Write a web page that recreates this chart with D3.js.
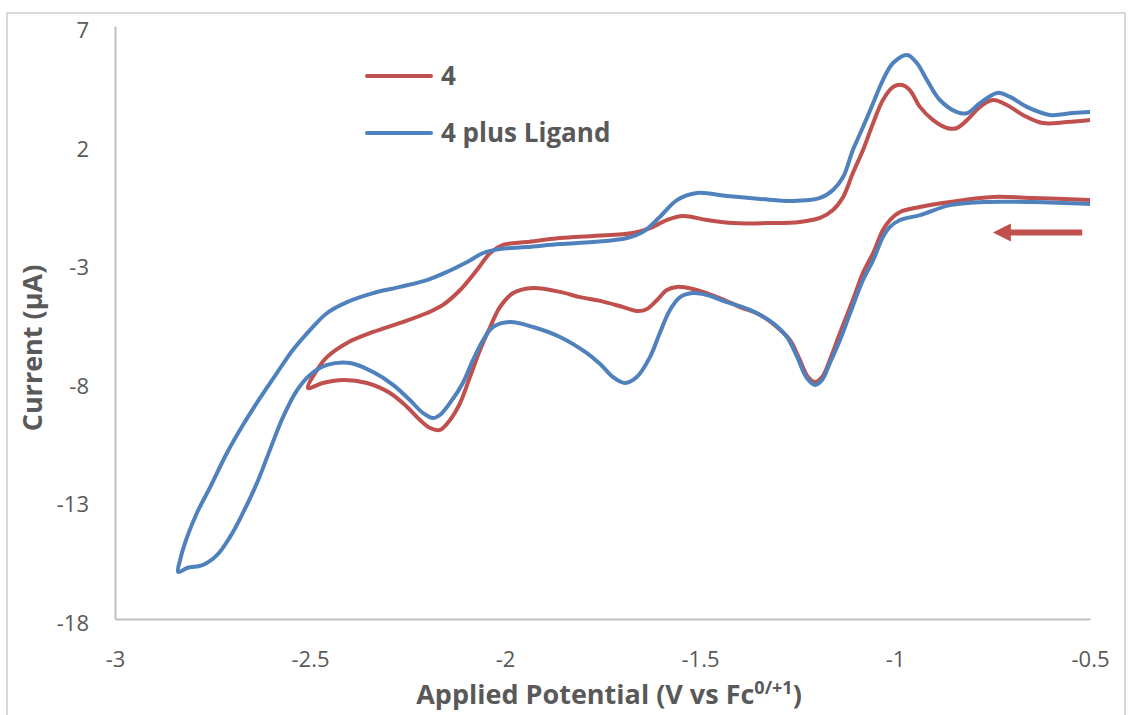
<!DOCTYPE html>
<html>
<head>
<meta charset="utf-8">
<script src="https://cdn.jsdelivr.net/npm/d3@7"></script>
<style>
  html, body { margin: 0; padding: 0; background: #fff; }
  svg { display: block; }
</style>
</head>
<body>
<svg id="cv" width="1128" height="715"></svg>
<script>
// series names
var seriesNames = ["4", "4 plus Ligand"];

// compound 4: scan from -0.5 V down to the vertex and back
var redPotential = [
  -0.5, -0.646, -0.749, -0.859, -0.936, -0.987, -1.013, -1.031, -1.056, -1.082,
  -1.108, -1.141, -1.167, -1.187, -1.205, -1.223, -1.244, -1.269, -1.303, -1.346,
  -1.397, -1.456, -1.518, -1.559, -1.585, -1.610, -1.636, -1.659, -1.697, -1.756,
  -1.808, -1.859, -1.928, -1.979, -2.013, -2.038, -2.064, -2.090, -2.115, -2.141,
  -2.167, -2.192, -2.218, -2.251, -2.295, -2.354, -2.415, -2.467, -2.505,
  -2.482, -2.456, -2.405, -2.338, -2.269, -2.200, -2.159, -2.115, -2.072, -2.038,
  -2.005, -1.944, -1.859, -1.774, -1.672, -1.628, -1.585, -1.544, -1.482, -1.415,
  -1.328, -1.244, -1.192, -1.159, -1.133, -1.108, -1.082, -1.056, -1.031, -1.005,
  -0.982, -0.962, -0.936, -0.903, -0.867, -0.841, -0.815, -0.782, -0.749, -0.713,
  -0.672, -0.621, -0.559, -0.5
];
var redCurrent = [
  -0.34, -0.25, -0.21, -0.42, -0.63, -0.84, -1.18, -1.60, -2.57, -3.41,
  -4.55, -5.94, -7.08, -7.80, -8.01, -7.80, -7.08, -6.24, -5.69, -5.18,
  -4.85, -4.43, -4.09, -4.00, -4.13, -4.55, -4.93, -5.02, -4.85, -4.59,
  -4.43, -4.21, -4.05, -4.26, -4.85, -5.69, -6.66, -7.80, -8.89, -9.61,
  -10.03, -9.95, -9.61, -9.06, -8.47, -8.05, -7.92, -8.05, -8.26,
  -7.50, -6.95, -6.36, -5.90, -5.52, -5.10, -4.76, -4.13, -3.29, -2.57,
  -2.23, -2.11, -1.94, -1.85, -1.73, -1.52, -1.18, -1.01, -1.18, -1.31,
  -1.31, -1.26, -1.09, -0.76, -0.21, 0.80, 1.77, 2.91, 3.88, 4.43,
  4.51, 4.30, 3.59, 3.04, 2.70, 2.70, 3.04, 3.59, 3.88, 3.67,
  3.25, 2.91, 2.95, 3.04
];

// compound 4 plus ligand
var bluePotential = [
  -0.5, -0.646, -0.774, -0.859, -0.936, -0.987, -1.013, -1.031, -1.056, -1.082,
  -1.115, -1.141, -1.167, -1.187, -1.205, -1.226, -1.251, -1.277, -1.313, -1.372,
  -1.431, -1.482, -1.518, -1.551, -1.577, -1.603, -1.628, -1.662, -1.692, -1.723,
  -1.756, -1.790, -1.859, -1.928, -1.987, -2.031, -2.056, -2.082, -2.108, -2.141,
  -2.167, -2.185, -2.210, -2.244, -2.287, -2.338, -2.397, -2.456, -2.500, -2.533,
  -2.569, -2.603, -2.636, -2.672, -2.705, -2.738, -2.774, -2.815, -2.838,
  -2.833, -2.815, -2.790, -2.756, -2.713, -2.672, -2.628, -2.585, -2.544, -2.500,
  -2.456, -2.405, -2.338, -2.269, -2.200, -2.149, -2.097, -2.056, -2.013, -1.944,
  -1.859, -1.774, -1.687, -1.646, -1.603, -1.559, -1.508, -1.431, -1.346, -1.262,
  -1.192, -1.159, -1.133, -1.108, -1.082, -1.056, -1.031, -1.005, -0.969, -0.944,
  -0.918, -0.885, -0.841, -0.815, -0.782, -0.738, -0.705, -0.662, -0.603, -0.544,
  -0.5
];
var blueCurrent = [
  -0.50, -0.42, -0.42, -0.55, -0.97, -1.18, -1.47, -1.90, -2.87, -3.71,
  -5.10, -6.24, -7.21, -7.92, -8.13, -7.84, -6.95, -6.11, -5.52, -4.97,
  -4.64, -4.34, -4.26, -4.43, -4.97, -5.94, -6.95, -7.80, -8.05, -7.80,
  -7.25, -6.79, -6.11, -5.69, -5.48, -5.69, -6.24, -7.08, -8.05, -8.89,
  -9.40, -9.53, -9.32, -8.77, -8.13, -7.59, -7.21, -7.29, -7.71, -8.35,
  -9.48, -10.88, -12.27, -13.53, -14.54, -15.30, -15.72, -15.85, -16.02,
  -15.51, -14.54, -13.53, -12.44, -11.00, -9.82, -8.68, -7.63, -6.66, -5.82,
  -5.10, -4.64, -4.26, -4.00, -3.71, -3.37, -2.95, -2.57, -2.40, -2.32,
  -2.19, -2.11, -1.94, -1.68, -1.05, -0.34, -0.04, -0.17, -0.29, -0.38,
  -0.25, 0.09, 0.63, 1.77, 2.74, 3.75, 4.72, 5.44, 5.78, 5.44,
  4.72, 3.88, 3.37, 3.33, 3.75, 4.18, 4.01, 3.59, 3.25, 3.33,
  3.37
];

// tick labels
var xTicks = [-3, -2.5, -2, -1.5, -1, -0.5];
var yTicks = [7, 2, -3, -8, -13, -18];

// scan direction arrow (V, uA)
var arrowFrom = [-0.52, -1.71];
var arrowTo = [-0.749, -1.71];

(function () {

  function ready(fn) {
    if (document.readyState != 'loading') fn();
    else document.addEventListener('DOMContentLoaded', fn);
  }

  ready(drawChart);

  function drawChart() {
    var svg = d3.select("#cv"),
      margin = {top: 26, right: 38, bottom: 96, left: 115},
      width = 1128 - margin.left - margin.right,
      height = 715 - margin.top - margin.bottom;

    var red = "#C0504D", blue = "#4F81BD", textColor = "#595959";
    var font = "'Open Sans', 'DejaVu Sans', sans-serif";

    // outer chart border
    svg.append("rect")
      .attr("x", 7).attr("y", 13)
      .attr("width", 1118).attr("height", 720)
      .attr("fill", "none")
      .attr("stroke", "#d9d9d9")
      .attr("stroke-width", 2);

    var g = svg.append("g").attr("transform", "translate(" + margin.left + "," + margin.top + ")");

    var x = d3.scaleLinear().domain([-3, -0.5]).range([0, width]);
    var y = d3.scaleLinear().domain([-18, 7]).range([height, 0]);

    var xAxis = g.append("g")
      .attr("transform", "translate(0," + height + ")")
      .call(d3.axisBottom(x)
        .tickValues(xTicks)
        .tickSize(0)
        .tickPadding(32)
        .tickFormat(function(d) { return String(d); }));

    var yAxis = g.append("g")
      .call(d3.axisLeft(y)
        .tickValues(yTicks)
        .tickSize(0)
        .tickPadding(26)
        .tickFormat(function(d) { return String(d); }));

    [xAxis, yAxis].forEach(function(ax) {
      ax.select(".domain").attr("stroke", "#bfbfbf").attr("stroke-width", 2);
      ax.selectAll("text")
        .attr("fill", textColor)
        .style("font-family", font)
        .style("font-size", "22px");
    });
    yAxis.selectAll("text").attr("dy", "0.52em");

    var line = d3.line()
      .x(function(d) { return x(d[0]); })
      .y(function(d) { return y(d[1]); })
      .curve(d3.curveCatmullRom.alpha(0.5));

    var redData = redPotential.map(function(v, i) { return [v, redCurrent[i]]; });
    var blueData = bluePotential.map(function(v, i) { return [v, blueCurrent[i]]; });

    g.append("path")
      .datum(redData)
      .attr("fill", "none")
      .attr("stroke", red)
      .attr("stroke-width", 4)
      .attr("stroke-linejoin", "round")
      .attr("d", line);

    g.append("path")
      .datum(blueData)
      .attr("fill", "none")
      .attr("stroke", blue)
      .attr("stroke-width", 4)
      .attr("stroke-linejoin", "round")
      .attr("d", line);

    // scan direction arrow
    var ax0 = x(arrowFrom[0]), ax1 = x(arrowTo[0]), ay = y(arrowFrom[1]);
    g.append("line")
      .attr("x1", ax0).attr("x2", ax1 + 16)
      .attr("y1", ay).attr("y2", ay)
      .attr("stroke", red)
      .attr("stroke-width", 6);
    g.append("path")
      .attr("d", "M" + ax1 + "," + ay + "L" + (ax1 + 18) + "," + (ay - 9) + "L" + (ax1 + 18) + "," + (ay + 9) + "Z")
      .attr("fill", red);

    // legend
    var legend = svg.append("g");
    [red, blue].forEach(function(c, i) {
      var ly = 76 + i * 57;
      legend.append("line")
        .attr("x1", 367).attr("x2", 431)
        .attr("y1", ly).attr("y2", ly)
        .attr("stroke", c)
        .attr("stroke-width", 4)
        .attr("stroke-linecap", "round");
      legend.append("text")
        .attr("x", 441).attr("y", ly + 9)
        .attr("fill", textColor)
        .style("font-family", font)
        .style("font-weight", "bold")
        .style("font-size", "26px")
        .text(seriesNames[i]);
    });

    // axis titles
    svg.append("text")
      .attr("transform", "translate(42,348) rotate(-90)")
      .attr("text-anchor", "middle")
      .attr("fill", textColor)
      .style("font-family", font)
      .style("font-weight", "bold")
      .style("font-size", "27px")
      .text("Current (μA)");

    var xt = svg.append("text")
      .attr("x", 609).attr("y", 704)
      .attr("text-anchor", "middle")
      .attr("fill", textColor)
      .style("font-family", font)
      .style("font-weight", "bold")
      .style("font-size", "27px");
    xt.append("tspan").text("Applied Potential (V vs Fc");
    xt.append("tspan").attr("dy", -10).style("font-size", "18px").text("0/+1");
    xt.append("tspan").attr("dy", 10).text(")");
  }
})();
</script>
</body>
</html>
